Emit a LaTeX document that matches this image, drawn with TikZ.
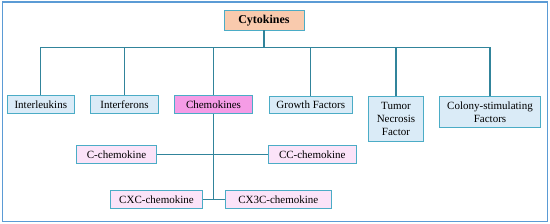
\documentclass[tikz,border=0pt]{standalone}
\usepackage{fontspec}
\setmainfont{Liberation Serif}
\usepackage{xcolor}
\usepackage{tikz}
\usetikzlibrary{positioning,calc}
\definecolor{edgeteal}{HTML}{31849B}
\definecolor{boxline}{HTML}{4BACC6}
\definecolor{framebl}{HTML}{5B9BD5}
\definecolor{peach}{HTML}{F9CAAD}
\definecolor{chmpink}{HTML}{F59CE6}
\definecolor{lightpink}{HTML}{FBE3F8}
\definecolor{lightblue}{HTML}{DAEBF7}

\begin{document}
\begin{tikzpicture}[x=1pt,y=-1pt,
  bx/.style={draw=boxline,line width=0.9pt,fill=lightblue,minimum height=17.7pt,inner sep=1pt,
    font=\fontsize{11}{13}\selectfont,align=center},
  sub/.style={bx,fill=lightpink},
  ln/.style={draw=edgeteal,line width=1.1pt}]
  \useasboundingbox (0,0) rectangle (550,224);
  \draw[framebl,line width=1.4pt] (2.7,2.2) rectangle (547.3,221.3);
  \node[bx,fill=peach,minimum width=80pt,minimum height=19.5pt,font=\fontsize{12}{14}\selectfont\bfseries](cyt)at(264,20.3){Cytokines};
  \node[bx,minimum width=67pt](il)at(40.8,104.5){Interleukins};
  \node[bx,minimum width=67.6pt](ifn)at(124.5,104.3){Interferons};
  \node[bx,fill=chmpink,minimum width=77.6pt](chm)at(213.5,104.5){Chemokines};
  \node[bx,minimum width=83pt](gf)at(310.8,105){Growth Factors};
  \node[bx,minimum width=54.3pt,minimum height=44.6pt](tnf)at(396,119){Tumor\\Necrosis\\Factor};
  \node[bx,minimum width=100.6pt,minimum height=31pt](csf)at(490,112.2){Colony-stimulating\\Factors};
  \node[sub,minimum width=80.4pt](cone)at(116.5,154.7){C-chemokine};
  \node[sub,minimum width=87.3pt](cc)at(312.3,154.7){CC-chemokine};
  \node[sub,minimum width=92.4pt](cxc)at(156.5,199.7){CXC-chemokine};
  \node[sub,minimum width=105.3pt](cxiiic)at(278.3,199.7){CX3C-chemokine};
  % tree
  \coordinate (bus) at (0,47.7);
  \draw[ln] (cyt.south) -- (cyt.south |- bus);
  \draw[ln] (il.north) -- (il.north |- bus) -- (csf.north |- bus) -- (csf.north);
  \foreach \n in {ifn,chm,gf,tnf} \draw[ln] (\n.north) -- (\n.north |- bus);
  % chemokine families
  \draw[ln] (chm.south) -- (chm.south |- cxc.east);
  \draw[ln] (cone.east) -- (cc.west);
  \draw[ln] (cxc.east) -- (cxiiic.west);
\end{tikzpicture}
\end{document}
